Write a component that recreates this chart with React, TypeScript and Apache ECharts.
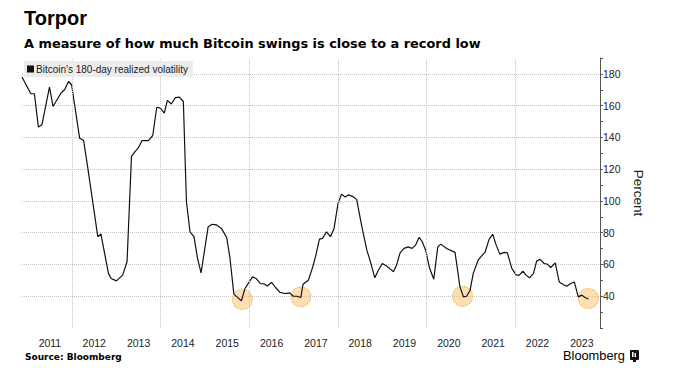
import React, { useEffect, useRef } from 'react';
import * as echarts from 'echarts';

// Decimal-year positions and Bitcoin 180-day realized volatility (%)
const dates = [
  2010.87, 2011.07, 2011.15, 2011.24, 2011.32, 2011.49, 2011.57, 2011.75, 2011.83, 2011.92,
  2011.99, 2012.17, 2012.26, 2012.35, 2012.58, 2012.65, 2012.82, 2012.88, 2013.0, 2013.14,
  2013.24, 2013.34, 2013.42, 2013.49, 2013.58, 2013.72, 2013.82, 2013.91, 2013.99, 2014.08,
  2014.15, 2014.24, 2014.33, 2014.42, 2014.51, 2014.58, 2014.66, 2014.75, 2014.83, 2014.91,
  2015.07, 2015.16, 2015.26, 2015.37, 2015.49, 2015.56, 2015.65, 2015.82, 2015.9, 2016.07,
  2016.15, 2016.25, 2016.35, 2016.4, 2016.5, 2016.59, 2016.69, 2016.8, 2016.91, 2016.99,
  2017.07, 2017.16, 2017.21, 2017.33, 2017.43, 2017.5, 2017.58, 2017.65, 2017.74, 2017.83,
  2017.91, 2018.0, 2018.08, 2018.16, 2018.23, 2018.34, 2018.42, 2018.53, 2018.65, 2018.72,
  2018.83, 2018.91, 2019.0, 2019.12, 2019.25, 2019.32, 2019.4, 2019.49, 2019.58, 2019.67,
  2019.75, 2019.83, 2019.9, 2019.98, 2020.06, 2020.16, 2020.25, 2020.32, 2020.45, 2020.64,
  2020.75, 2020.83, 2020.9, 2020.98, 2021.05, 2021.16, 2021.32, 2021.41, 2021.49, 2021.56,
  2021.65, 2021.75, 2021.82, 2021.92, 2022.02, 2022.09, 2022.17, 2022.24, 2022.32, 2022.41,
  2022.48, 2022.56, 2022.65, 2022.72, 2022.8, 2022.9, 2022.99, 2023.08, 2023.16, 2023.25,
  2023.33, 2023.42, 2023.5, 2023.57, 2023.65,
];
const vol = [
  178, 167.5, 167.5, 146.5, 148, 171.7, 159.5, 168, 170, 175.2,
  173, 139.5, 138, 121.6, 77.5, 79.2, 54.4, 51.2, 49.7, 53.3,
  61.7, 128, 131, 133.2, 138, 138, 141.2, 159, 158.4, 155.3,
  163.3, 161, 165.1, 165.4, 162.6, 99.5, 80.6, 77.5, 63.8, 54.7,
  83.8, 85.3, 84.9, 82.7, 76.8, 64.4, 41.3, 37.1, 44.9, 52.2,
  51.2, 48, 47.6, 46.5, 48.7, 45.5, 42.4, 41.7, 42.1, 40,
  40, 39.2, 47.6, 50.1, 58.5, 65.9, 76, 76.4, 80.6, 77.5,
  82.7, 98.5, 104.3, 102.5, 103.8, 102.7, 101, 84.8, 69, 62.7,
  51.6, 56.4, 60.6, 58.5, 55.4, 59.6, 67.3, 70.1, 71.1, 70.1,
  72.2, 77.1, 74.3, 68.6, 58.1, 50.7, 71.1, 72.8, 70.1, 67.6,
  45.9, 39.6, 40, 43.8, 54.4, 62.7, 68, 76, 79, 72.8,
  66.5, 67.6, 67.3, 57.5, 53.3, 53.3, 55.8, 53.3, 51.6, 54.4,
  62.1, 63.2, 60.6, 60.2, 58.1, 61, 49, 47.4, 46.3, 48,
  49, 39.6, 40.7, 39.2, 38.3,
];

// Highlighted record lows
const lowDates = [2015.84, 2017.16, 2020.81, 2023.65];
const lowValues = [38, 39.6, 40, 38.6];

// Axis labels / gridlines
const yearLabels = [2011, 2012, 2013, 2014, 2015, 2016, 2017, 2018, 2019, 2020, 2021, 2022, 2023];
const yearGridLines = [2012, 2014, 2016, 2018, 2020, 2022];

const SERIES_NAME = "Bitcoin's 180-day realized volatility";

export default function App() {
  const ref = useRef<HTMLDivElement>(null);

  useEffect(() => {
    const chart = echarts.init(ref.current!, null, { renderer: 'svg' });
    const lineData = dates.map((d, i) => [d, vol[i]]);
    const lowData = lowDates.map((d, i) => [d, lowValues[i]]);

    chart.setOption({
      animation: false,
      backgroundColor: '#ffffff',
      textStyle: { fontFamily: 'Liberation Sans' },
      title: [
        {
          text: 'Torpor',
          left: 24,
          top: 8,
          padding: 0,
          textStyle: { fontSize: 20, fontWeight: 'bold', color: '#000', fontFamily: 'Liberation Sans' },
        },
        {
          text: 'A measure of how much Bitcoin swings is close to a record low',
          left: 24,
          top: 37,
          padding: 0,
          textStyle: { fontSize: 12.9, fontWeight: 'bold', color: '#000', fontFamily: 'DejaVu Sans' },
        },
      ],
      legend: {
        data: [SERIES_NAME],
        left: 24,
        top: 61,
        z: 10,
        padding: [3, 5, 3, 3],
        backgroundColor: '#ececec',
        icon: 'rect',
        itemWidth: 7,
        itemHeight: 7,
        selectedMode: false,
        textStyle: { fontSize: 10, color: '#222', fontFamily: 'Liberation Sans', padding: [0, 0, 0, -3] },
      },
      grid: { left: 22, right: 80, top: 58, bottom: 46 },
      xAxis: {
        type: 'value',
        min: 2010.87,
        max: 2023.91,
        axisLine: { show: false },
        axisTick: { show: false },
        splitLine: { show: false },
        axisLabel: {
          customValues: yearLabels.map((y) => y + 0.5),
          formatter: (v: number) => String(Math.floor(v)),
          margin: 9,
          fontSize: 10.5,
          color: '#222',
          fontFamily: 'Liberation Sans',
        },
      },
      yAxis: {
        type: 'value',
        position: 'right',
        min: 20,
        max: 190,
        interval: 20,
        name: 'Percent',
        nameLocation: 'middle',
        nameRotate: -90,
        nameGap: 25,
        nameTextStyle: { fontSize: 13.5, color: '#222', fontFamily: 'Liberation Sans' },
        axisLine: { show: true, lineStyle: { color: '#555', width: 1 } },
        axisTick: { show: true, length: 3, lineStyle: { color: '#555' } },
        minorTick: { show: true, splitNumber: 2, length: 3, lineStyle: { color: '#555' } },
        axisLabel: {
          showMinLabel: false,
          showMaxLabel: false,
          margin: 3,
          fontSize: 10.5,
          color: '#222',
          fontFamily: 'Liberation Sans',
        },
        splitLine: {
          show: true,
          showMinLine: false,
          showMaxLine: false,
          lineStyle: { type: 'dotted', color: '#c4c4c4', width: 1 },
        },
      },
      series: [
        {
          type: 'scatter',
          name: 'lows',
          data: lowData,
          symbolSize: 20,
          z: 2,
          silent: true,
          itemStyle: {
            color: 'rgba(250, 188, 96, 0.6)',
            borderColor: '#f2a43a',
            borderType: 'dotted',
            borderWidth: 1.2,
          },
        },
        {
          type: 'line',
          name: SERIES_NAME,
          data: lineData,
          showSymbol: false,
          symbol: 'none',
          z: 3,
          color: '#111',
          lineStyle: { color: '#111', width: 1.2 },
          markLine: {
            silent: true,
            symbol: 'none',
            label: { show: false },
            lineStyle: { type: 'dotted', color: '#c4c4c4', width: 1 },
            data: yearGridLines.map((y) => ({ xAxis: y })),
          },
        },
      ],
      graphic: [
        {
          type: 'text',
          left: 25,
          top: 352,
          style: { text: 'Source: Bloomberg', font: 'bold 9px "DejaVu Sans"', fill: '#000' },
        },
        {
          type: 'text',
          left: 563,
          top: 349,
          style: { text: 'Bloomberg', font: '500 12.8px "Liberation Sans"', fill: '#000' },
        },
        {
          type: 'group',
          left: 630,
          top: 350,
          children: [
            { type: 'rect', shape: { x: 0, y: 0, width: 9, height: 10, r: 1 }, style: { fill: '#111' } },
            { type: 'rect', shape: { x: 2, y: 2, width: 1.5, height: 5 }, style: { fill: '#fff' } },
            { type: 'rect', shape: { x: 4.5, y: 3, width: 1.5, height: 4 }, style: { fill: '#fff' } },
            { type: 'rect', shape: { x: 3, y: 9, width: 3, height: 3 }, style: { fill: '#111' } },
          ],
        },
      ],
    });

    return () => chart.dispose();
  }, []);

  return <div ref={ref} style={{ position: 'fixed', left: 0, top: 0, width: 680, height: 374 }} />;
}
